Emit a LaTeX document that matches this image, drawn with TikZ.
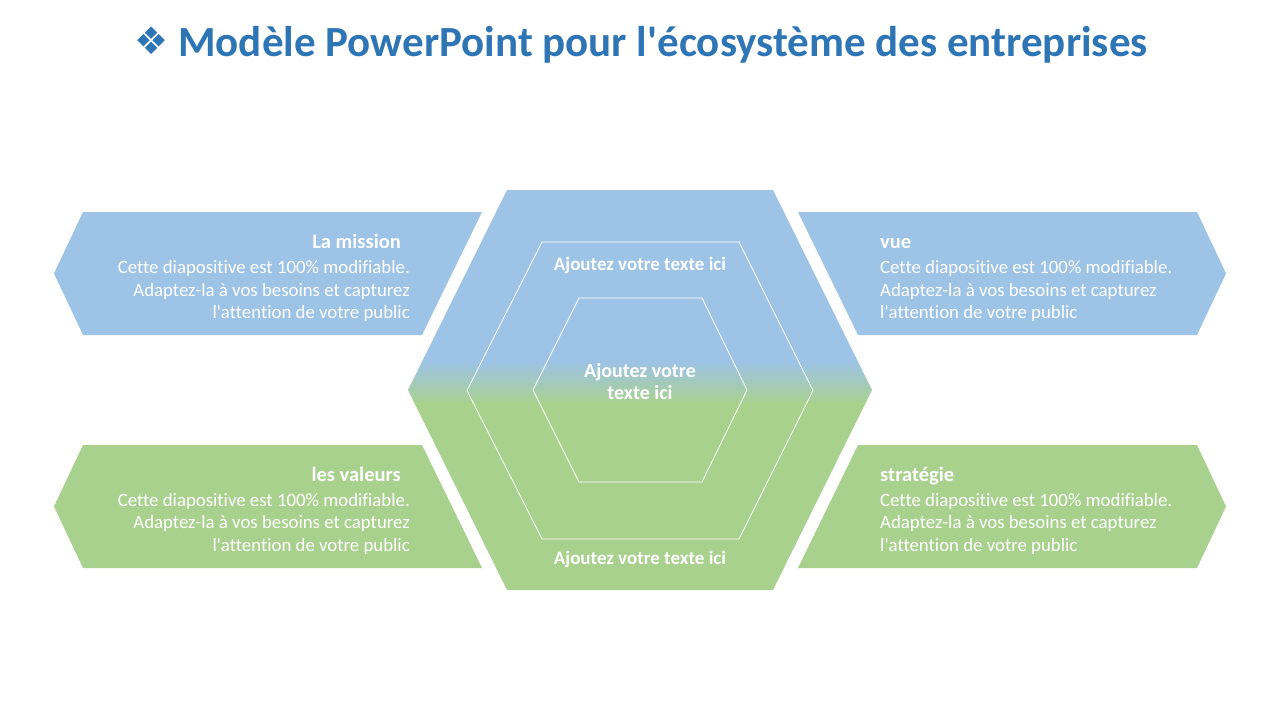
\documentclass[tikz,border=0pt]{standalone}
\usepackage{fontspec}
\setmainfont{Carlito}[Ligatures={TeXOff,CommonOff}]
\newfontfamily\dejavu{DejaVu Sans}
\definecolor{hblue}{HTML}{9DC3E6}
\definecolor{hgreen}{HTML}{A9D18E}
\definecolor{ttl}{HTML}{2E75B6}
\begin{document}
\begin{tikzpicture}[x=1pt,y=-1pt,
  boxtitle/.style={text=white,font=\fontsize{20.5}{24}\selectfont\bfseries,inner sep=0pt},
  boxbody/.style={text=white,font=\fontsize{18.8}{22.5}\selectfont,inner sep=0pt},
  hextext/.style={text=white,font=\fontsize{19}{22}\selectfont\bfseries,inner sep=0pt,align=center},
  hexline/.style={draw=white,line width=0.8pt}]
\useasboundingbox (0,0) rectangle (1280,720);
% side shapes
\fill[hblue] (83,212) -- (482,212) -- (422,335) -- (83,335) -- (54,273.5) -- cycle;
\fill[hblue] (1197,212) -- (798,212) -- (858,335) -- (1197,335) -- (1226,273.5) -- cycle;
\fill[hgreen] (83,445) -- (422,445) -- (482,568) -- (83,568) -- (54,506.5) -- cycle;
\fill[hgreen] (1197,445) -- (858,445) -- (798,568) -- (1197,568) -- (1226,506.5) -- cycle;
% central hexagon with gradient
\begin{scope}
\clip (507,190) -- (773,190) -- (872,390) -- (773,590) -- (507,590) -- (408,390) -- cycle;
\fill[hblue] (400,185) rectangle (880,362);
\shade[top color=hblue,bottom color=hgreen] (400,361) rectangle (880,404);
\fill[hgreen] (400,403) rectangle (880,595);
\end{scope}
\draw[hexline] (542,242) -- (739,242) -- (813,390.5) -- (739,539) -- (542,539) -- (467,390.5) -- cycle;
\draw[hexline] (579,298) -- (702,298) -- (747,390) -- (702,482) -- (579,482) -- (533,390) -- cycle;
% title
\node[text=ttl,font=\fontsize{43}{48}\selectfont\bfseries,inner sep=0pt] (title) at (641,45)
  {\raisebox{2pt}{\dejavu\fontsize{38}{40}\selectfont ❖}\hspace{10pt}Modèle PowerPoint pour l'écosystème des entreprises};
% center texts
\node[hextext] (t1) at (640,265) {Ajoutez votre texte ici};
\node[hextext] (t2) at (640,559.5) {Ajoutez votre texte ici};
\node[hextext,font=\fontsize{20}{22}\selectfont\bfseries] (t3) at (640,381.5) {Ajoutez votre\\texte ici};
% left top
\node[boxtitle,anchor=base east] (lt) at (401,248) {La mission};
\node[boxbody,anchor=east,align=right] (ltb) at (410,291) {Cette diapositive est 100\% modifiable.\\Adaptez-la à vos besoins et capturez\\l'attention de votre public};
% right top
\node[boxtitle,anchor=base west] (rt) at (880,248) {vue};
\node[boxbody,anchor=west,align=left] (rtb) at (880,291) {Cette diapositive est 100\% modifiable.\\Adaptez-la à vos besoins et capturez\\l'attention de votre public};
% left bottom
\node[boxtitle,anchor=base east] (lb) at (401,481) {les valeurs};
\node[boxbody,anchor=east,align=right] (lbb) at (410,523.5) {Cette diapositive est 100\% modifiable.\\Adaptez-la à vos besoins et capturez\\l'attention de votre public};
% right bottom
\node[boxtitle,anchor=base west] (rb) at (880,481) {stratégie};
\node[boxbody,anchor=west,align=left] (rbb) at (880,523.5) {Cette diapositive est 100\% modifiable.\\Adaptez-la à vos besoins et capturez\\l'attention de votre public};
\end{tikzpicture}
\end{document}
